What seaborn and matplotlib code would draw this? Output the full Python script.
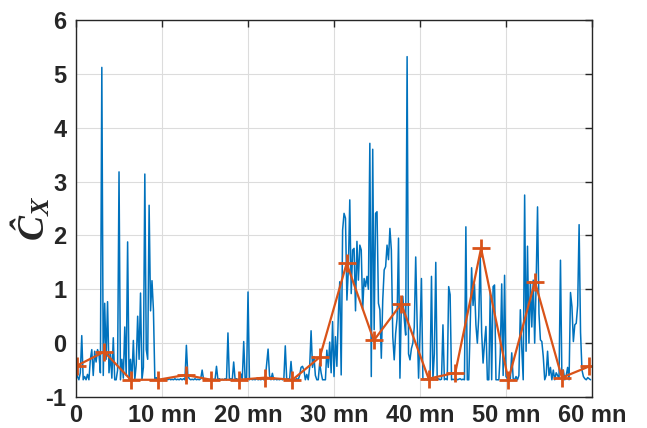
import matplotlib
matplotlib.use('Agg')
import matplotlib.pyplot as plt
import numpy as np
import seaborn as sns

# Fast estimator, one sample every 10 s (6 per minute), one row per minute
cx_fast = [
    -0.42, -0.62, -0.68, -0.55, 0.14, -0.68,
    -0.62, -0.68, -0.58, -0.68, -0.30, -0.12,
    -0.60, -0.15, -0.35, -0.12, -0.20, -0.55,
    5.12, -0.60, 0.74, -0.30, 0.77, -0.55,
    -0.20, -0.65, 0.10, -0.68, -0.68, -0.50,
    3.18, -0.68, -0.30, -0.65, 0.30, -0.60,
    1.88, -0.68, -0.30, -0.65, 0.05, -0.68,
    -0.40, 0.50, -0.30, 0.93, -0.68, -0.45,
    3.14, -0.12, -0.30, 2.56, 0.60, 1.16,
    0.62, -0.68, -0.64, -0.68, -0.66, -0.68,
    -0.68, -0.66, -0.68, -0.67, -0.68, -0.66,
    -0.68, -0.67, -0.68, -0.66, -0.68, -0.67,
    -0.68, -0.66, -0.68, -0.66, -0.68, -0.04,
    -0.60, -0.66, -0.68, -0.67, -0.68, -0.66,
    -0.68, -0.67, -0.68, -0.66, -0.50, -0.68,
    -0.66, -0.68, -0.67, -0.68, -0.66, -0.68,
    -0.67, -0.68, -0.43, -0.68, -0.66, -0.68,
    -0.67, -0.68, -0.66, -0.68, 0.19, -0.68,
    -0.66, -0.68, -0.35, -0.68, -0.66, -0.68,
    -0.68, -0.57, -0.68, 0.03, -0.68, -0.66,
    0.95, -0.68, -0.66, -0.68, -0.67, -0.68,
    -0.66, -0.68, -0.67, -0.68, -0.66, -0.68,
    -0.67, -0.40, -0.11, -0.60, -0.68, -0.56,
    -0.68, -0.66, -0.68, -0.67, -0.68, -0.66,
    -0.68, -0.67, -0.05, -0.68, -0.66, -0.68,
    -0.34, -0.68, -0.67, -0.68, -0.66, -0.68,
    -0.60, -0.45, -0.43, -0.50, -0.68, -0.58,
    -0.68, -0.45, 0.23, -0.45, -0.25, -0.60,
    -0.68, -0.68, -0.37, -0.55, -0.68, -0.68,
    -0.68, -0.13, -0.45, 0.02, -0.55, 0.40,
    -0.62, 0.12, -0.43, 0.50, 1.14, -0.59,
    2.10, 2.41, 2.32, 0.80, 1.36, 2.66,
    0.92, 1.73, 1.76, 0.60, 1.89, 1.17,
    1.82, 1.73, 0.62, 1.20, 1.05, 1.24,
    1.00, 3.71, -0.62, 3.60, 0.25, 2.41,
    2.44, 0.74, 0.62, -0.28, 0.80, 1.36,
    1.42, 1.82, 1.55, 2.13, 1.73, 0.12,
    -0.31, 0.18, 0.46, 1.95, -0.65, 0.74,
    0.87, 0.45, 0.15, 5.32, -0.20, -0.31,
    -0.10, 0.00, 0.30, 1.60, 0.37, -0.65,
    0.20, 1.20, -0.65, -0.68, -0.66, -0.68,
    -0.68, -0.66, 1.24, -0.68, -0.20, 1.50,
    -0.68, -0.66, -0.68, -0.67, 0.34, -0.68,
    -0.66, -0.68, 1.05, 0.90, -0.68, -0.67,
    -0.68, -0.66, -0.68, -0.67, -0.66, -0.68,
    -0.67, -0.68, 2.16, -0.68, -0.68, 0.30,
    1.40, 0.70, 1.10, 0.34, 0.00, 0.50,
    1.65, 0.20, -0.37, 0.00, 0.31, -0.68,
    -0.68, 0.96, -0.68, 1.05, 1.08, -0.68,
    -0.68, -0.68, -0.20, 1.10, -0.60, 1.26,
    -0.62, -0.66, -0.68, -0.66, -0.18, -0.66,
    -0.68, -0.62, -0.68, -0.60, 0.62, -0.10,
    -0.68, 2.75, -0.15, 1.80, 0.00, 1.14,
    0.30, 1.17, 0.00, 1.08, 2.53, 0.55,
    0.06, 0.03, -0.25, -0.68, -0.60, -0.15,
    -0.60, -0.45, -0.68, -0.50, -0.68, -0.55,
    -0.60, -0.66, 1.54, -0.66, -0.50, -0.68,
    -0.60, -0.45, -0.68, 0.94, 0.68, 0.03,
    0.34, 0.37, 0.70, 2.20, 0.20, -0.50,
    -0.62, -0.66, -0.68, -0.64, -0.66, -0.68,
]
SAMPLES_PER_MIN = 6

# Windowed estimator (orange crosses)
win_t = [0.08, 3.28, 6.37, 9.53, 12.74, 15.72, 18.9, 22.0, 25.17, 28.35,
         31.47, 34.63, 37.82, 41.0, 44.1, 47.1, 50.27, 53.36, 56.5, 59.7]
win_cx = [-0.42, -0.16, -0.68, -0.68, -0.59, -0.68, -0.68, -0.64, -0.68, -0.26,
          1.48, 0.05, 0.73, -0.66, -0.55, 1.76, -0.68, 1.14, -0.64, -0.43]

x_ticks = [0, 10, 20, 30, 40, 50, 60]
x_labels = ['0', '10 mn', '20 mn', '30 mn', '40 mn', '50 mn', '60 mn']
y_ticks = [-1, 0, 1, 2, 3, 4, 5, 6]

sns.set_style('white')
plt.rcParams['font.family'] = ['Liberation Sans', 'DejaVu Sans']
plt.rcParams['axes.unicode_minus'] = False
plt.rcParams['mathtext.fontset'] = 'custom'
plt.rcParams['mathtext.it'] = 'Liberation Serif:italic:bold'
plt.rcParams['mathtext.rm'] = 'Liberation Serif:bold'

t_fast = np.arange(len(cx_fast)) / SAMPLES_PER_MIN

fig = plt.figure(figsize=(6.47, 4.28), dpi=100)
ax = fig.add_axes([0.1175, 0.0724, 0.7975, 0.8809])

sns.lineplot(x=t_fast, y=cx_fast, color='#0072BD', linewidth=1.1, ax=ax)
sns.lineplot(x=win_t, y=win_cx, color='#D95319', linewidth=1.6,
             marker='+', markersize=13, markeredgewidth=2,
             markeredgecolor='#D95319', ax=ax)

ax.set_xlim(0, 60)
ax.set_ylim(-1, 6)
ax.set_xticks(x_ticks)
ax.set_xticklabels(x_labels)
ax.set_yticks(y_ticks)
ax.grid(True, color='#dcdcdc', linewidth=0.8)
ax.set_axisbelow(True)

ax.tick_params(direction='in', length=5, width=1, top=True, right=True,
               labelsize=17, colors='#262626')
ax.tick_params(axis='x', pad=5)
ax.tick_params(axis='y', pad=7)
for lbl in ax.get_xticklabels() + ax.get_yticklabels():
    lbl.set_fontweight('bold')
for sp in ax.spines.values():
    sp.set_color('#262626')
    sp.set_linewidth(1)

# y label: C with circumflex, subscript X, bold italic serif
fig.text(31 / 647, 1 - 218 / 428, '$\\mathit{\u0108}_{X}$', fontsize=27,
         color='#262626', rotation=90, ha='center', va='center')

fig.savefig('out.png', dpi=100)
